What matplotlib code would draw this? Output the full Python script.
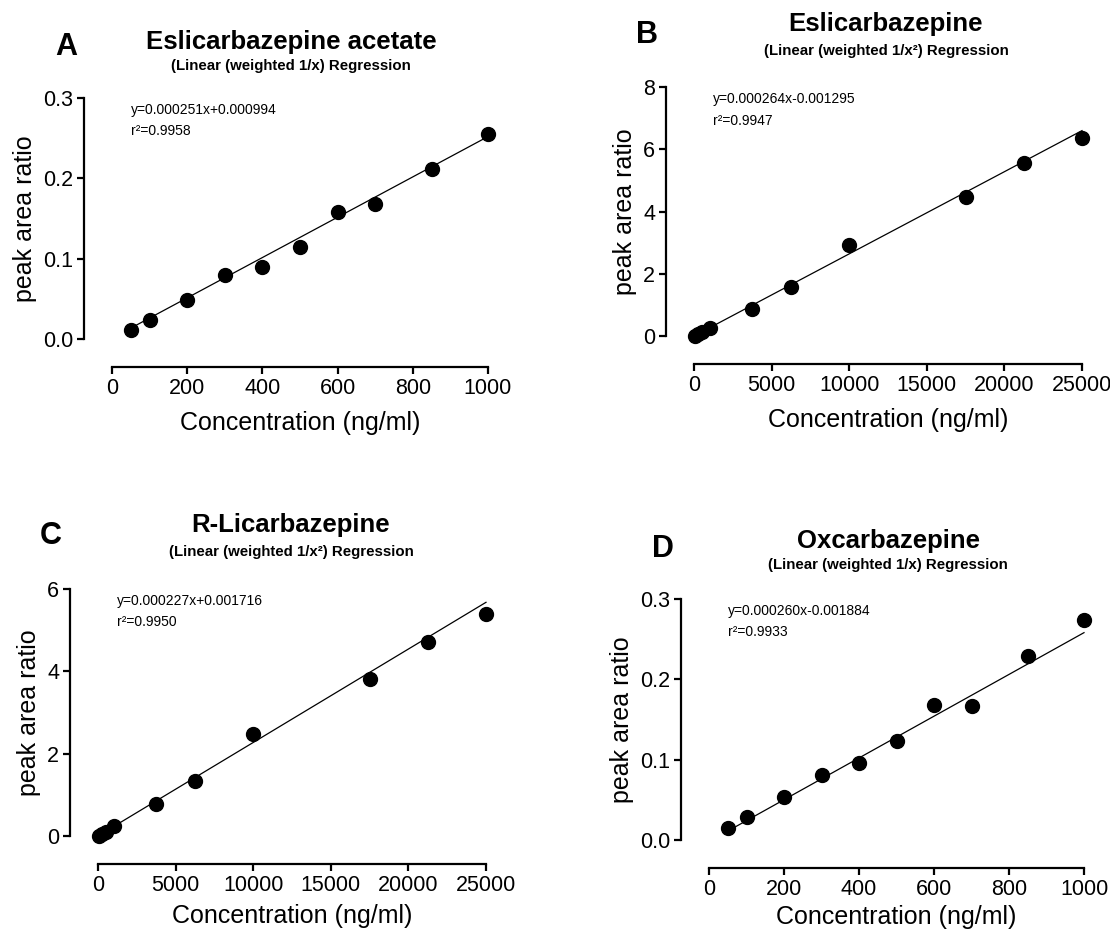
import matplotlib
matplotlib.use("Agg")
from matplotlib import pyplot as plt
from matplotlib.ticker import FormatStrFormatter

plt.rcParams['font.family'] = ['Liberation Sans', 'DejaVu Sans']

# panel A: eslicarbazepine acetate
conc_a = [50, 100, 200, 300, 400, 500, 600, 700, 850, 1000]
ratio_a = [0.011, 0.024, 0.049, 0.080, 0.090, 0.114, 0.158, 0.168, 0.212, 0.255]
fit_a = (0.000251, 0.000994)
r2_a = "0.9958"

# panel B: eslicarbazepine
conc_b = [50, 250, 500, 1000, 3750, 6250, 10000, 17500, 21250, 25000]
ratio_b = [0.01, 0.07, 0.13, 0.27, 0.87, 1.56, 2.92, 4.48, 5.56, 6.35]
fit_b = (0.000264, -0.001295)
r2_b = "0.9947"

# panel C: R-licarbazepine
conc_c = [50, 250, 500, 1000, 3750, 6250, 10000, 17500, 21250, 25000]
ratio_c = [0.01, 0.06, 0.10, 0.24, 0.78, 1.33, 2.47, 3.81, 4.71, 5.39]
fit_c = (0.000227, 0.001716)
r2_c = "0.9950"

# panel D: oxcarbazepine
conc_d = [50, 100, 200, 300, 400, 500, 600, 700, 850, 1000]
ratio_d = [0.015, 0.029, 0.054, 0.081, 0.096, 0.123, 0.168, 0.167, 0.229, 0.274]
fit_d = (0.000260, -0.001884)
r2_d = "0.9933"

W, H = 1110, 932


def fig_x(px):
    return px / W


def fig_y(py):
    return 1 - py / H


def draw_panel(fig, box, conc, ratio, fit, r2, xmax, xticks, ymax, yticks, yfmt,
               letter, title, subtitle, title_pos, xpad=9):
    left, top, right, bottom = box
    ax = fig.add_axes([fig_x(left), fig_y(bottom), (right - left) / W, (bottom - top) / H])
    ax.set_xlim(0, xmax)
    ax.set_ylim(0, ymax)

    slope, intercept = fit
    x_line = [min(conc), max(conc)]
    y_line = [slope * x + intercept for x in x_line]
    ax.plot(x_line, y_line, color='black', linewidth=0.9, clip_on=False)
    ax.plot(conc, ratio, 'o', color='black', markersize=10, clip_on=False)

    for side in ['top', 'right']:
        ax.spines[side].set_visible(False)
    ax.spines['left'].set_position(('outward', 20))
    ax.spines['bottom'].set_position(('outward', 20))
    ax.spines['left'].set_linewidth(1.6)
    ax.spines['bottom'].set_linewidth(1.6)
    ax.set_xticks(xticks)
    ax.set_yticks(yticks)
    if yfmt:
        ax.yaxis.set_major_formatter(FormatStrFormatter(yfmt))
    ax.tick_params(direction='out', length=5, width=1.6, labelsize=15.5, pad=3)

    ax.set_xlabel("Concentration (ng/ml)", fontsize=18, labelpad=xpad)
    ax.set_ylabel("peak area ratio", fontsize=18, labelpad=4)

    sign = '+' if intercept >= 0 else '-'
    eq = f"y={slope:.6f}x{sign}{abs(intercept):.6f}"
    ax.text(0.05, 0.95, eq, transform=ax.transAxes, fontsize=10, va='center')
    ax.text(0.05, 0.865, f"r²={r2}", transform=ax.transAxes, fontsize=10, va='center')

    tx, ty, sy, lx, ly = title_pos
    fig.text(fig_x(tx), fig_y(ty), title, fontsize=18.5, fontweight='bold',
             ha='center', va='center')
    fig.text(fig_x(tx), fig_y(sy), subtitle, fontsize=10.8, fontweight='bold',
             ha='center', va='center')
    fig.text(fig_x(lx), fig_y(ly), letter, fontsize=22, fontweight='bold',
             ha='center', va='center')
    return ax


fig = plt.figure(figsize=(W / 100, H / 100), dpi=100)

draw_panel(fig, (112, 98, 488, 339), conc_a, ratio_a, fit_a, r2_a,
           1000, [0, 200, 400, 600, 800, 1000], 0.3, [0.0, 0.1, 0.2, 0.3], '%.1f',
           'A', 'Eslicarbazepine acetate', '(Linear (weighted 1/x) Regression',
           (291, 42, 66, 66, 47))

draw_panel(fig, (694, 87, 1082, 336), conc_b, ratio_b, fit_b, r2_b,
           25000, [0, 5000, 10000, 15000, 20000, 25000], 8, [0, 2, 4, 6, 8], None,
           'B', 'Eslicarbazepine', '(Linear (weighted 1/x²) Regression',
           (886, 24, 51, 647, 35))

draw_panel(fig, (98, 589, 486, 836), conc_c, ratio_c, fit_c, r2_c,
           25000, [0, 5000, 10000, 15000, 20000, 25000], 6, [0, 2, 4, 6], None,
           'C', 'R-Licarbazepine', '(Linear (weighted 1/x²) Regression',
           (291, 525, 552, 51, 536), xpad=6)

draw_panel(fig, (709, 599, 1084, 840), conc_d, ratio_d, fit_d, r2_d,
           1000, [0, 200, 400, 600, 800, 1000], 0.3, [0.0, 0.1, 0.2, 0.3], '%.1f',
           'D', 'Oxcarbazepine', '(Linear (weighted 1/x) Regression',
           (888, 541, 565, 663, 549), xpad=4)

fig.savefig('out.png', dpi=100)
